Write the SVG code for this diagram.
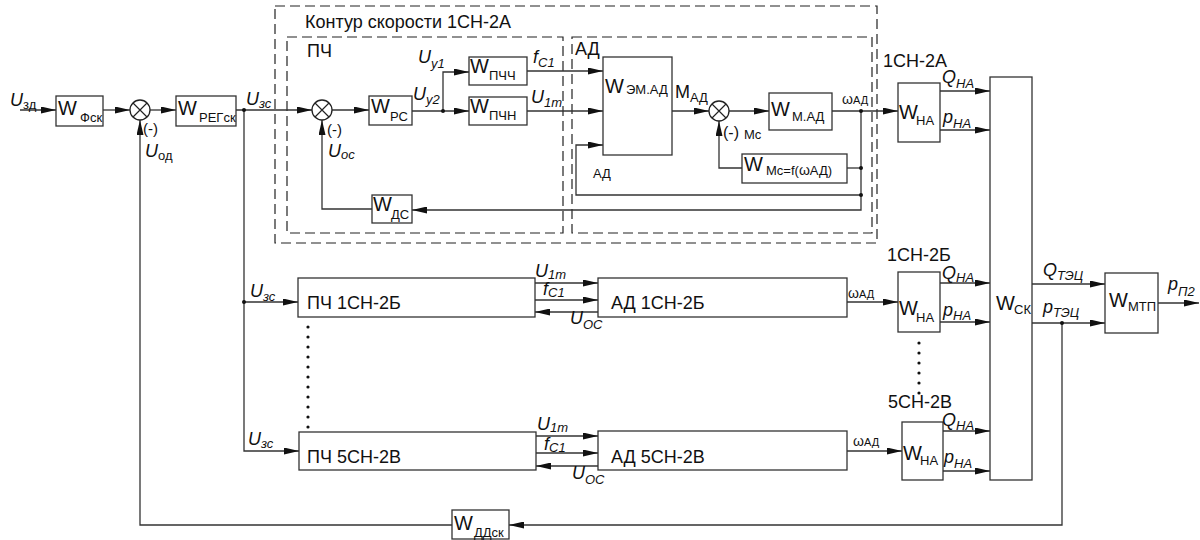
<svg xmlns="http://www.w3.org/2000/svg" width="1200" height="540" viewBox="0 0 1200 540">
<style>
text{font-family:"Liberation Sans",Arial,sans-serif;fill:#111}
.t{font-size:18px}
.w{font-size:20px}
.s{font-size:13px}
.i{font-size:18px;font-style:italic}
.is{font-size:13px;font-style:italic}
.box rect{fill:#fff;stroke:#333;stroke-width:1.3}
.ln{fill:none;stroke:#333;stroke-width:1.3}
.ar{marker-end:url(#a)}
.dash{fill:none;stroke:#222;stroke-width:1.2;stroke-dasharray:10 5}
.sum circle{fill:#fff;stroke:#222;stroke-width:1.3}
.sum path{stroke:#222;stroke-width:1.2}
.dot{fill:#111}
</style>
<defs>
<marker id="a" markerWidth="15" markerHeight="7" refX="15" refY="3.5" orient="auto" markerUnits="userSpaceOnUse"><path d="M0,0L15,3.5L0,7z" fill="#111"/></marker>
</defs>
<rect width="1200" height="540" fill="#fff"/>

<g id="contours">
<rect class="dash" x="275" y="6" width="602" height="237"/>
<rect class="dash" x="287" y="37" width="276" height="196"/>
<rect class="dash" x="572" y="37" width="300" height="196"/>
<text class="t" x="305" y="28">Контур скорости 1СН-2А</text>
<text class="t" x="307" y="57">ПЧ</text>
<text class="t" x="575" y="55">АД</text>
</g>

<g id="connectors">
<path class="ln ar" d="M20,110H56"/>
<path class="ln ar" d="M103,110H130"/>
<path class="ln ar" d="M150,110H176"/>
<path class="ln ar" d="M236,110H312"/>
<path class="ln ar" d="M244,110V451H299"/>
<path class="ln ar" d="M244,302H298"/>
<path class="ln ar" d="M332,110H369"/>
<path class="ln ar" d="M412,111H469"/>
<path class="ln ar" d="M443,111V72H469"/>
<path class="ln ar" d="M527,71H603"/>
<path class="ln ar" d="M527,111H603"/>
<path class="ln ar" d="M672,111H709"/>
<path class="ln ar" d="M729,111H769"/>
<path class="ln ar" d="M832,111H898"/>
<path class="ln ar" d="M861,111V210H412"/>
<path class="ln" d="M847,168H861"/>
<path class="ln ar" d="M742,168H719V121"/>
<path class="ln ar" d="M861,195H576V145H603"/>
<path class="ln ar" d="M372,209H322V120"/>
<path class="ln ar" d="M452,525H140V120"/>
<path class="ln ar" d="M1062,323V525H509"/>
<path class="ln ar" d="M940,91H990"/>
<path class="ln ar" d="M940,130H990"/>
<path class="ln ar" d="M535,283H598"/>
<path class="ln ar" d="M535,300H598"/>
<path class="ln ar" d="M598,312H535"/>
<path class="ln ar" d="M847,302H898"/>
<path class="ln ar" d="M940,283H990"/>
<path class="ln ar" d="M940,322H990"/>
<path class="ln ar" d="M1032,284H1105"/>
<path class="ln ar" d="M1032,323H1105"/>
<path class="ln ar" d="M1158,303H1199"/>
<path class="ln ar" d="M536,436H598"/>
<path class="ln ar" d="M536,453H598"/>
<path class="ln ar" d="M598,466H536"/>
<path class="ln ar" d="M847,451H902"/>
<path class="ln ar" d="M943,431H990"/>
<path class="ln ar" d="M943,471H990"/>
<circle class="dot" cx="244" cy="110" r="2"/>
<circle class="dot" cx="244" cy="302" r="2"/>
<circle class="dot" cx="443" cy="111" r="2"/>
<circle class="dot" cx="861" cy="111" r="2"/>
<circle class="dot" cx="861" cy="168" r="2"/>
<circle class="dot" cx="861" cy="195" r="2"/>
<circle class="dot" cx="1062" cy="323" r="2"/>
<g class="dot">
<circle cx="308" cy="327" r="1.6"/><circle cx="308" cy="337" r="1.6"/><circle cx="308" cy="347" r="1.6"/><circle cx="308" cy="357" r="1.6"/><circle cx="308" cy="367" r="1.6"/><circle cx="308" cy="377" r="1.6"/><circle cx="308" cy="387" r="1.6"/><circle cx="308" cy="397" r="1.6"/><circle cx="308" cy="407" r="1.6"/><circle cx="308" cy="417" r="1.6"/><circle cx="308" cy="427" r="1.6"/>
<circle cx="919" cy="343" r="1.6"/><circle cx="919" cy="353" r="1.6"/><circle cx="919" cy="363" r="1.6"/><circle cx="919" cy="373" r="1.6"/><circle cx="919" cy="383" r="1.6"/><circle cx="919" cy="393" r="1.6"/>
</g>
</g>

<g id="sum1" class="sum"><circle cx="140" cy="110" r="10"/><path d="M133,103L147,117M147,103L133,117"/></g>
<g id="sum2" class="sum"><circle cx="322" cy="110" r="10"/><path d="M315,103L329,117M329,103L315,117"/></g>
<g id="sum3" class="sum"><circle cx="719" cy="111" r="10"/><path d="M712,104L726,118M726,104L712,118"/></g>

<g id="W_fsk" class="box"><rect x="56" y="96" width="47" height="30"/><text class="w" x="58" y="115">W</text><text class="s" x="80" y="122">Фск</text></g>
<g id="W_regsk" class="box"><rect x="176" y="96" width="60" height="30"/><text class="w" x="178" y="115">W</text><text class="s" x="199" y="122">РЕГск</text></g>
<g id="W_rs" class="box"><rect x="369" y="96" width="43" height="29"/><text class="w" x="371" y="113">W</text><text class="s" x="390" y="121">РС</text></g>
<g id="W_pchch" class="box"><rect x="469" y="57" width="58" height="28"/><text class="w" x="470" y="73">W</text><text class="s" x="489" y="80">ПЧЧ</text></g>
<g id="W_pchn" class="box"><rect x="469" y="97" width="58" height="28"/><text class="w" x="470" y="113">W</text><text class="s" x="489" y="120">ПЧН</text></g>
<g id="W_ds" class="box"><rect x="372" y="195" width="40" height="28"/><text class="w" x="373" y="211">W</text><text class="s" x="391" y="219">ДС</text></g>
<g id="W_em" class="box"><rect x="603" y="57" width="69" height="98"/><text class="w" x="605" y="93">W</text><text class="s" x="626" y="94">ЭМ.АД</text></g>
<g id="W_mad" class="box"><rect x="769" y="93" width="63" height="37"/><text class="w" x="771" y="116">W</text><text class="s" x="792" y="121">М.АД</text></g>
<g id="W_mc" class="box"><rect x="742" y="154" width="105" height="29"/><text class="w" x="744" y="171">W</text><text class="s" x="766" y="175">Mc=f(<tspan font-size="14">ω</tspan>АД)</text></g>
<text class="s" x="593" y="178" font-size="11">АД</text>
<text class="t" x="675" y="98">M<tspan class="s" dy="4">АД</tspan></text>
<text x="723" y="138" font-size="16">(-)</text>
<text class="s" x="744" y="139">Mc</text>
<text x="842" y="104" font-size="14">ω<tspan font-size="11">АД</tspan></text>

<g id="W_na1" class="box"><rect x="898" y="83" width="42" height="59"/><text class="w" x="899" y="119">W</text><text class="s" x="916" y="125">НА</text></g>
<g id="W_na2" class="box"><rect x="898" y="272" width="42" height="60"/><text class="w" x="899" y="315">W</text><text class="s" x="916" y="322">НА</text></g>
<g id="W_na3" class="box"><rect x="902" y="422" width="41" height="58"/><text class="w" x="903" y="460">W</text><text class="s" x="920" y="465">НА</text></g>
<g id="W_sk" class="box"><rect x="990" y="77" width="42" height="403"/><text class="w" x="996" y="310">W</text><text class="s" x="1014" y="314">СК</text></g>
<g id="W_mtp" class="box"><rect x="1105" y="273" width="53" height="60"/><text class="w" x="1109" y="307">W</text><text class="s" x="1128" y="311">МТП</text></g>
<g id="W_ddsk" class="box"><rect x="452" y="510" width="57" height="29"/><text class="w" x="454" y="530">W</text><text class="s" x="474" y="537">ДДск</text></g>

<g id="pch1" class="box"><rect x="298" y="278" width="237" height="39"/><text class="t" x="307" y="309">ПЧ 1СН-2Б</text></g>
<g id="ad1" class="box"><rect x="598" y="278" width="249" height="39"/><text class="t" x="611" y="309">АД 1СН-2Б</text></g>
<g id="pch5" class="box"><rect x="299" y="432" width="237" height="38"/><text class="t" x="307" y="463">ПЧ 5СН-2В</text></g>
<g id="ad5" class="box"><rect x="598" y="431" width="249" height="39"/><text class="t" x="611" y="463">АД 5СН-2В</text></g>

<g id="labels">
<text class="i" x="10" y="106">U<tspan class="s" font-style="normal" dy="3">зд</tspan></text>
<text class="i" x="246" y="105">U<tspan class="is" dy="3">зс</tspan></text>
<text x="143" y="134" font-size="15">(-)</text>
<text class="i" x="145" y="157">U<tspan class="s" font-style="normal" dy="3">од</tspan></text>
<text x="327" y="135" font-size="15">(-)</text>
<text class="i" x="328" y="157">U<tspan class="is" dy="2">ос</tspan></text>
<text class="i" x="418" y="63">U<tspan class="is" dy="5">у1</tspan></text>
<text class="i" x="413" y="100">U<tspan class="is" dy="4">у2</tspan></text>
<text class="i" x="533" y="63">f<tspan class="is" dy="4">C1</tspan></text>
<text class="i" x="531" y="103">U<tspan class="is" dy="4">1m</tspan></text>
<text class="t" x="883" y="67">1СН-2А</text>
<text class="i" x="942" y="83">Q<tspan class="is" dy="5">НА</tspan></text>
<text class="i" x="943" y="123">p<tspan class="is" dy="5">НА</tspan></text>

<text class="i" x="250" y="297">U<tspan class="is" dy="4">зс</tspan></text>
<text class="i" x="535" y="277">U<tspan class="is" dy="2">1m</tspan></text>
<text class="i" x="543" y="295">f<tspan class="is" dy="2">C1</tspan></text>
<text class="i" x="570" y="324">U<tspan class="is" dy="5" font-size="14">ОС</tspan></text>
<text x="848" y="298" font-size="14">ω<tspan font-size="11">АД</tspan></text>
<text class="t" x="887" y="261">1СН-2Б</text>
<text class="i" x="942" y="279">Q<tspan class="is" dy="3">НА</tspan></text>
<text class="i" x="943" y="316">p<tspan class="is" dy="4">НА</tspan></text>
<text class="i" x="1043" y="276">Q<tspan class="is" dy="4">ТЭЦ</tspan></text>
<text class="i" x="1043" y="313">p<tspan class="is" dy="4">ТЭЦ</tspan></text>
<text class="i" x="1168" y="290">p<tspan class="is" dy="6">П2</tspan></text>

<text class="i" x="248" y="445">U<tspan class="is" dy="3">зс</tspan></text>
<text class="i" x="537" y="430">U<tspan class="is" dy="2">1m</tspan></text>
<text class="i" x="544" y="450">f<tspan class="is" dy="2">C1</tspan></text>
<text class="i" x="572" y="479">U<tspan class="is" dy="5" font-size="14">ОС</tspan></text>
<text x="853" y="446" font-size="14">ω<tspan font-size="11">АД</tspan></text>
<text class="t" x="888" y="408">5СН-2В</text>
<text class="i" x="942" y="426">Q<tspan class="is" dy="4">НА</tspan></text>
<text class="i" x="944" y="463">p<tspan class="is" dy="5">НА</tspan></text>
</g>
</svg>
